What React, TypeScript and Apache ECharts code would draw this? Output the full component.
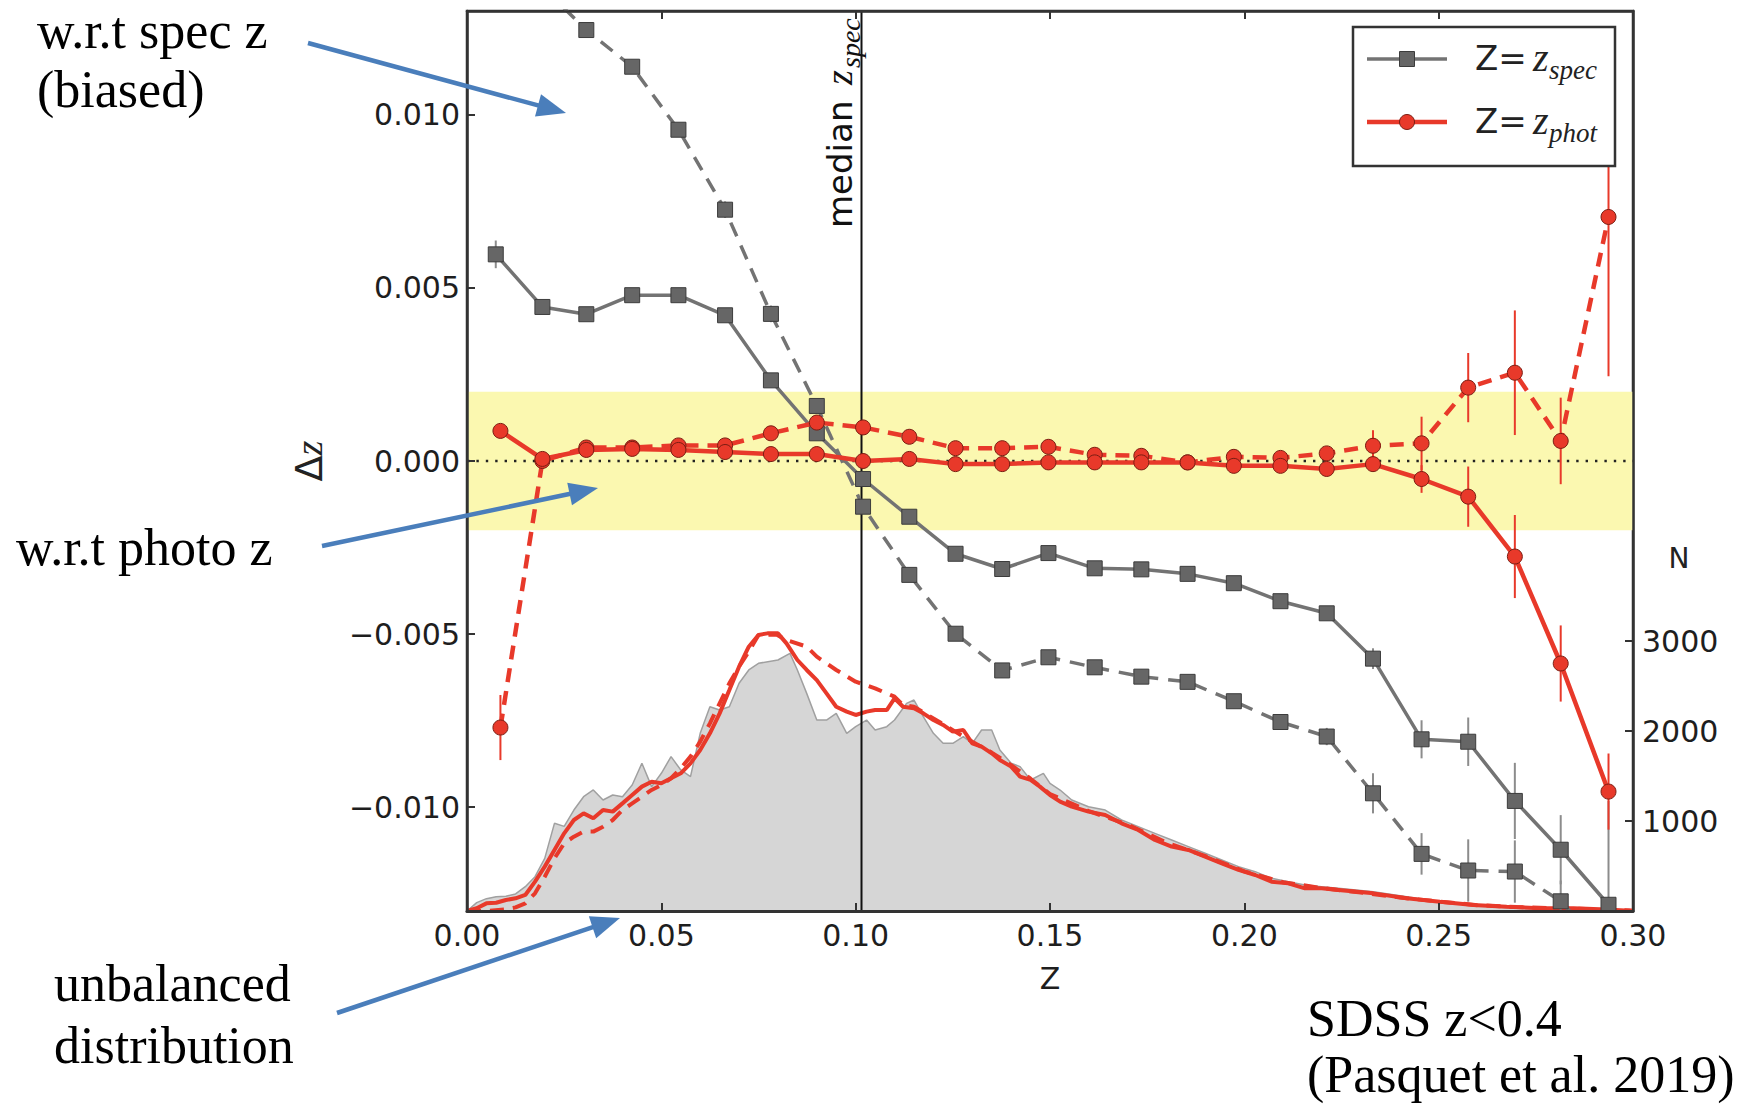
import React, { useEffect, useRef } from 'react';
import * as echarts from 'echarts';

// ---------- data ----------
const X_TICKS = [0, 0.05, 0.1, 0.15, 0.2, 0.25, 0.3];
const DZ_TICKS = [-0.01, -0.005, 0, 0.005, 0.01];
const N_TICKS = [1000, 2000, 3000];

const BIN_Z = [0.0074, 0.0194, 0.0307, 0.0425, 0.0544, 0.0664, 0.0782, 0.09, 0.1019, 0.1138, 0.1257, 0.1377, 0.1496, 0.1615, 0.1735, 0.1854, 0.1973, 0.2093, 0.2212, 0.2331, 0.2456, 0.2576, 0.2696, 0.2814, 0.2937];
const PHOT_BIN_Z = [0.0086, 0.0194, 0.0307, 0.0425, 0.0544, 0.0664, 0.0782, 0.09, 0.1019, 0.1138, 0.1257, 0.1377, 0.1496, 0.1615, 0.1735, 0.1854, 0.1973, 0.2093, 0.2212, 0.2331, 0.2456, 0.2576, 0.2696, 0.2814, 0.2937];

const SPEC_SOLID = [0.00597, 0.00445, 0.00424, 0.00479, 0.00479, 0.00421, 0.00233, 0.0008, -0.00052, -0.00161, -0.00268, -0.00312, -0.00266, -0.0031, -0.00313, -0.00326, -0.00353, -0.00405, -0.0044, -0.00571, -0.00804, -0.00811, -0.00982, -0.01123, -0.01282];
const SPEC_SOLID_ERR = [0.0004, 0.00015, 0.00015, 0.00015, 0.00015, 0.00015, 0.00015, 0.00015, 0.00015, 0.00015, 0.00015, 0.00015, 0.00015, 0.00015, 0.00015, 0.00015, 0.00015, 0.0002, 0.0002, 0.0003, 0.00055, 0.0007, 0.0011, 0.001, 0.003];
const SPEC_DASH = [0.0152, 0.0137, 0.01245, 0.01139, 0.00957, 0.00726, 0.00425, 0.00159, -0.00132, -0.00329, -0.00499, -0.00605, -0.00567, -0.00596, -0.00623, -0.00638, -0.00694, -0.00754, -0.00796, -0.0096, -0.01135, -0.01183, -0.01186, -0.01272, -0.0142];
const SPEC_DASH_ERR = [0.0002, 0.0002, 0.0002, 0.0002, 0.0002, 0.00024, 0.00024, 0.0002, 0.0002, 0.0002, 0.0002, 0.0002, 0.0002, 0.0002, 0.0002, 0.0002, 0.0002, 0.00022, 0.00025, 0.00058, 0.0006, 0.0009, 0.0009, 0.0006, 0.0006];
const PHOT_SOLID = [0.00087, 0.00006, 0.00032, 0.00035, 0.00032, 0.00026, 0.0002, 0.0002, 0.0, 0.00006, -0.00009, -0.00009, -0.00004, -0.00004, -0.00004, -0.00004, -0.00014, -0.00014, -0.00023, -0.00009, -0.00052, -0.00103, -0.00276, -0.00585, -0.00955];
const PHOT_SOLID_ERR = [0.00015, 0.00015, 0.00015, 0.00015, 0.00015, 0.00015, 0.00015, 0.00015, 0.00015, 0.00015, 0.00015, 0.00015, 0.00015, 0.00015, 0.00015, 0.00015, 0.00015, 0.00015, 0.00015, 0.0002, 0.0004, 0.00087, 0.0012, 0.0011, 0.0011];
const PHOT_DASH = [-0.0077, 0.0, 0.00039, 0.00039, 0.00045, 0.00045, 0.0008, 0.00111, 0.00097, 0.0007, 0.00037, 0.00037, 0.00041, 0.00018, 0.00015, -0.00004, 0.00012, 0.00009, 0.00022, 0.00044, 0.00051, 0.00212, 0.00255, 0.00058, 0.00705];
const PHOT_DASH_ERR = [0.00094, 0.00015, 0.00015, 0.00015, 0.00015, 0.00015, 0.00015, 0.00015, 0.00015, 0.00015, 0.00015, 0.00015, 0.00015, 0.00015, 0.00015, 0.00015, 0.00015, 0.00018, 0.0002, 0.00045, 0.00077, 0.001, 0.0018, 0.00125, 0.0046];

// histogram of spectroscopic redshifts (grey, right axis N)
const HIST_Z = [0, 0.0025, 0.005, 0.0075, 0.01, 0.0125, 0.015, 0.0175, 0.02, 0.0225, 0.025, 0.0275, 0.03, 0.0325, 0.035, 0.0375, 0.04, 0.0425, 0.045, 0.0475, 0.05, 0.0525, 0.055, 0.0575, 0.06, 0.0625, 0.065, 0.0675, 0.07, 0.0725, 0.075,
  0.08, 0.0831, 0.085, 0.0874, 0.09, 0.0925, 0.095, 0.0977, 0.1, 0.1028, 0.105, 0.108, 0.11, 0.1131, 0.115, 0.1174, 0.12, 0.1225, 0.125, 0.1277, 0.13, 0.1324, 0.135, 0.1371, 0.14, 0.1423, 0.145, 0.1483, 0.15, 0.1526,
  0.1556, 0.1599, 0.1642, 0.1684, 0.1727, 0.177, 0.1813, 0.1856, 0.1899, 0.1942, 0.1985, 0.2028, 0.207, 0.2113, 0.2156, 0.2199, 0.2242,
  0.2332, 0.2418, 0.25, 0.26, 0.27, 0.28, 0.29, 0.3];
const HIST_N = [0, 93, 137, 159, 165, 190, 270, 381, 585, 974, 940, 1122, 1270, 1345, 1233, 1289, 1270, 1400, 1641, 1382, 1530, 1715, 1567, 1493, 1974, 2270, 2233, 2270, 2530, 2678, 2752,
  2789, 2863, 2678, 2418, 2122, 2122, 2196, 1974, 2048, 2122, 2011, 2048, 2122, 2307, 2344, 2159, 1974, 1863, 1863, 1937, 1863, 2011, 2011, 1789, 1641, 1604, 1456, 1530, 1419, 1344,
  1233, 1159, 1122, 1011, 937, 863, 789, 715, 641, 567, 493, 437, 363, 326, 289, 270, 252,
  215, 159, 104, 60, 30, 20, 11, 5];

// distribution of photometric redshifts (red solid)
const PHOT_DIST_Z = [0, 0.0025, 0.005, 0.0075, 0.01, 0.0125, 0.015, 0.0175, 0.02, 0.0225, 0.025, 0.0275, 0.03, 0.0325, 0.035, 0.0375, 0.04, 0.0425, 0.045, 0.0475, 0.05, 0.0525, 0.055, 0.0575, 0.06, 0.0625, 0.065, 0.0675, 0.07, 0.0725, 0.075,
  0.0773, 0.08, 0.0822, 0.085, 0.0874, 0.09, 0.0925, 0.095, 0.0977, 0.1, 0.1028, 0.105, 0.108, 0.11, 0.1122, 0.115, 0.1174, 0.12, 0.1225, 0.125, 0.1277, 0.13, 0.1324, 0.135, 0.1371, 0.14, 0.1423, 0.145, 0.1474, 0.15, 0.1526,
  0.1556, 0.1599, 0.1642, 0.1684, 0.1727, 0.177, 0.1813, 0.1856, 0.1899, 0.1942, 0.1985, 0.2028, 0.207, 0.2113, 0.2156, 0.2199, 0.2242,
  0.2332, 0.2418, 0.2503, 0.2589, 0.2675, 0.2761, 0.2847, 0.2932, 0.2992];
const PHOT_DIST_N = [0, 30, 85, 92, 122, 141, 178, 326, 493, 678, 863, 1011, 1085, 1030, 1122, 1104, 1196, 1289, 1382, 1437, 1419, 1475, 1530, 1641, 1789, 1974, 2196, 2455, 2715, 2937, 3067,
  3085, 3085, 2974, 2789, 2678, 2566, 2418, 2270, 2215, 2178, 2215, 2233, 2233, 2363, 2270, 2252, 2196, 2122, 2067, 1993, 2011, 1863, 1826, 1752, 1678, 1604, 1493, 1456, 1382, 1289, 1215,
  1159, 1104, 1067, 974, 900, 789, 715, 678, 604, 530, 456, 400, 326, 307, 252, 252, 233,
  196, 141, 104, 67, 48, 30, 30, 18, 4];

// second photometric distribution (red dashed)
const PHOT_DIST2_Z = [0, 0.005, 0.01, 0.0125, 0.015, 0.0175, 0.02, 0.0225, 0.025, 0.0275, 0.03, 0.0325, 0.035, 0.0375, 0.04, 0.0425, 0.045, 0.0475, 0.05, 0.0525, 0.055, 0.0575, 0.06, 0.0625, 0.065, 0.0675, 0.07, 0.0725, 0.075,
  0.0796, 0.0822, 0.0874, 0.09, 0.095, 0.1, 0.105, 0.11, 0.1122, 0.115,
  0.12, 0.125, 0.13, 0.135, 0.14, 0.145, 0.15,
  0.16, 0.17, 0.18, 0.19, 0.2, 0.21, 0.22, 0.23, 0.24, 0.25, 0.26, 0.27, 0.28, 0.29, 0.3];
const PHOT_DIST2_N = [0, 0, 18, 40, 85, 196, 381, 585, 752, 826, 882, 882, 937, 1011, 1122, 1196, 1270, 1345, 1400, 1475, 1586, 1715, 1882, 2085, 2307, 2530, 2715, 2882, 3067,
  3071, 3011, 2937, 2826, 2678, 2548, 2474, 2381, 2289, 2270,
  2140, 2010, 1880, 1760, 1620, 1470, 1300,
  1110, 960, 760, 610, 440, 320, 255, 205, 150, 105, 65, 45, 30, 20, 5];

const MEDIAN_Z = 0.1015;
const DZ_RANGE = [-0.013, 0.013];
const BAND_DZ = [-0.002, 0.002];
const BAND_Z = [0, 0.3];

// ---------- styling ----------
const SANS = 'DejaVu Sans';
const SERIF = 'Liberation Serif';
const GREY_LINE = '#737373';
const GREY_MARK = '#666666';
const GREY_ERR = '#8c8c8c';
const RED = '#e8392a';
const RED_EDGE = '#7a1d12';
const ARROW = '#4a7ebb';

function zip(xs: number[], ys: number[]) {
  return xs.map((x, i) => [x, ys[i]]);
}

function errSeries(xs: number[], ys: number[], es: number[], color: string, z: number) {
  return {
    type: 'custom',
    xAxisIndex: 0,
    yAxisIndex: 0,
    z,
    clip: true,
    silent: true,
    data: xs.map((x, i) => [x, ys[i], es[i]]),
    encode: { x: 0, y: 1 },
    renderItem: (_p: any, api: any) => {
      const x = api.value(0);
      const y = api.value(1);
      const e = api.value(2);
      const a = api.coord([x, y - e]);
      const b = api.coord([x, y + e]);
      return {
        type: 'line',
        shape: { x1: a[0], y1: a[1], x2: b[0], y2: b[1] },
        style: { stroke: color, lineWidth: 2 },
      };
    },
  };
}

function arrow(x1: number, y1: number, x2: number, y2: number) {
  const dx = x2 - x1;
  const dy = y2 - y1;
  const L = Math.hypot(dx, dy);
  const ux = dx / L;
  const uy = dy / L;
  const head = 29;
  const hw = 11.5;
  const bx = x2 - ux * head;
  const by = y2 - uy * head;
  return [
    { type: 'line', shape: { x1, y1, x2: bx + ux * 2, y2: by + uy * 2 }, style: { stroke: ARROW, lineWidth: 4.5 }, z: 100 },
    {
      type: 'polygon',
      shape: { points: [[x2, y2], [bx - uy * hw, by + ux * hw], [bx + uy * hw, by - ux * hw]] },
      style: { fill: ARROW },
      z: 100,
    },
  ];
}

function txt(text: string, x: number, y: number, font: string, extra: any = {}) {
  return {
    type: 'text',
    x,
    y,
    z: 100,
    style: {
      text,
      font,
      fill: '#111',
      align: 'left',
      verticalAlign: 'middle',
      textAlign: 'left',
      textVerticalAlign: 'middle',
      ...extra,
    },
  };
}

export default function App() {
  const ref = useRef<HTMLDivElement>(null);

  useEffect(() => {
    if (!ref.current) return;
    const chart = echarts.init(ref.current, undefined, { renderer: 'svg' });

    const axisLineStyle = { color: '#333', width: 2.5 };
    const tickStyle = { color: '#333', width: 2 };
    const labelStyle = { fontSize: 30, fontFamily: SANS, color: '#1e1e1e' };

    const option: any = {
      animation: false,
      backgroundColor: '#ffffff',
      grid: {
        left: 467, top: 11, width: 1166, height: 900,
        show: true, borderColor: '#333', borderWidth: 2.5, backgroundColor: 'transparent',
        containLabel: false, outerBoundsMode: 'none',
      },
      xAxis: [
        {
          type: 'value', min: X_TICKS[0], max: X_TICKS[X_TICKS.length - 1], interval: 0.05, position: 'bottom', z: 10,
          axisLine: { show: true, onZero: false, lineStyle: { color: '#333', width: 3 } },
          axisTick: { show: true, inside: true, length: 8, lineStyle: tickStyle },
          axisLabel: { ...labelStyle, margin: 9, formatter: (v: number) => v.toFixed(2) },
          splitLine: { show: false },
          name: 'Z', nameLocation: 'middle', nameGap: 52,
          nameTextStyle: { fontSize: 30, fontFamily: SANS, color: '#1e1e1e' },
        },
        {
          type: 'value', min: X_TICKS[0], max: X_TICKS[X_TICKS.length - 1], interval: 0.05, position: 'top', z: 10,
          axisLine: { show: true, onZero: false, lineStyle: axisLineStyle },
          axisTick: { show: true, inside: true, length: 8, lineStyle: tickStyle },
          axisLabel: { show: false },
          splitLine: { show: false },
        },
      ],
      yAxis: [
        {
          type: 'value', min: DZ_RANGE[0], max: DZ_RANGE[1], position: 'left', z: 10,
          axisLine: { show: true, onZero: false, lineStyle: axisLineStyle },
          axisTick: { show: true, inside: true, length: 8, lineStyle: tickStyle, customValues: DZ_TICKS },
          axisLabel: {
            ...labelStyle, margin: 7, customValues: DZ_TICKS,
            formatter: (v: number) => (v < -1e-9 ? '\u2212' : '') + Math.abs(v).toFixed(3),
          },
          splitLine: { show: false },
        },
        {
          type: 'value', min: 0, max: 10000, position: 'right', z: 10,
          axisLine: { show: true, onZero: false, lineStyle: axisLineStyle },
          axisTick: { show: true, inside: true, length: 8, lineStyle: tickStyle, customValues: N_TICKS },
          axisLabel: { ...labelStyle, margin: 9, customValues: N_TICKS, formatter: (v: number) => String(Math.round(v)) },
          splitLine: { show: false },
        },
      ],
      series: [
        // yellow +-0.002 band
        {
          type: 'custom', xAxisIndex: 0, yAxisIndex: 0, z: 0, silent: true, clip: true,
          data: [[BAND_Z[0], BAND_Z[1], BAND_DZ[0], BAND_DZ[1]]],
          encode: { x: [0, 1], y: [2, 3] },
          renderItem: (_p: any, api: any) => {
            const a = api.coord([api.value(0), api.value(3)]);
            const b = api.coord([api.value(1), api.value(2)]);
            return {
              type: 'rect',
              shape: { x: a[0], y: a[1], width: b[0] - a[0], height: b[1] - a[1] },
              style: { fill: '#fbf8b0' },
            };
          },
        },
        // histogram of z_spec
        {
          name: 'N(z_spec)', type: 'line', xAxisIndex: 0, yAxisIndex: 1, z: 1,
          data: zip(HIST_Z, HIST_N), symbol: 'none',
          lineStyle: { color: '#a0a0a0', width: 1.5 },
          areaStyle: { color: '#d6d6d6', opacity: 1 },
        },
        {
          name: 'N(z_phot)', type: 'line', xAxisIndex: 0, yAxisIndex: 1, z: 2,
          data: zip(PHOT_DIST_Z, PHOT_DIST_N), symbol: 'none',
          lineStyle: { color: RED, width: 4 },
        },
        {
          name: 'N(z_phot) 2', type: 'line', xAxisIndex: 0, yAxisIndex: 1, z: 2,
          data: zip(PHOT_DIST2_Z, PHOT_DIST2_N), symbol: 'none',
          lineStyle: { color: RED, width: 4, type: [14, 9] },
        },
        // median z_spec vertical line
        {
          type: 'custom', xAxisIndex: 0, yAxisIndex: 0, z: 3, silent: true, clip: true,
          data: [[MEDIAN_Z, DZ_RANGE[0], DZ_RANGE[1]]],
          encode: { x: 0, y: [1, 2] },
          renderItem: (_p: any, api: any) => {
            const a = api.coord([api.value(0), api.value(1)]);
            const b = api.coord([api.value(0), api.value(2)]);
            return {
              type: 'line',
              shape: { x1: a[0], y1: a[1], x2: b[0], y2: b[1] },
              style: { stroke: '#111', lineWidth: 2 },
            };
          },
        },
        // error bars
        errSeries(BIN_Z, SPEC_SOLID, SPEC_SOLID_ERR, GREY_ERR, 4),
        errSeries(BIN_Z, SPEC_DASH, SPEC_DASH_ERR, GREY_ERR, 4),
        errSeries(PHOT_BIN_Z, PHOT_SOLID, PHOT_SOLID_ERR, RED, 6),
        errSeries(PHOT_BIN_Z, PHOT_DASH, PHOT_DASH_ERR, RED, 6),
        // Z = z_spec
        {
          name: 'Z=z_spec', type: 'line', xAxisIndex: 0, yAxisIndex: 0, z: 5, clip: true,
          data: zip(BIN_Z, SPEC_SOLID), symbol: 'rect', symbolSize: 15,
          lineStyle: { color: GREY_LINE, width: 3.5 },
          itemStyle: { color: GREY_MARK, borderColor: '#3c3c3c', borderWidth: 1 },
          markLine: {
            silent: true, symbol: ['none', 'none'], label: { show: false },
            data: [
              { yAxis: 0, lineStyle: { color: '#222', width: 2.4, type: [2.4, 7] } },
            ],
          },
        },
        {
          name: 'Z=z_spec (dashed)', type: 'line', xAxisIndex: 0, yAxisIndex: 0, z: 5, clip: true,
          data: zip(BIN_Z, SPEC_DASH), symbol: 'rect', symbolSize: 15,
          lineStyle: { color: GREY_LINE, width: 3.5, type: [15, 10] },
          itemStyle: { color: GREY_MARK, borderColor: '#3c3c3c', borderWidth: 1 },
        },
        // Z = z_phot
        {
          name: 'Z=z_phot (dashed)', type: 'line', xAxisIndex: 0, yAxisIndex: 0, z: 7, clip: true,
          data: zip(PHOT_BIN_Z, PHOT_DASH), symbol: 'circle', symbolSize: 15,
          lineStyle: { color: RED, width: 4.5, type: [14, 9] },
          itemStyle: { color: RED, borderColor: RED_EDGE, borderWidth: 1 },
        },
        {
          name: 'Z=z_phot', type: 'line', xAxisIndex: 0, yAxisIndex: 0, z: 8, clip: true,
          data: zip(PHOT_BIN_Z, PHOT_SOLID), symbol: 'circle', symbolSize: 15,
          lineStyle: { color: RED, width: 4.5 },
          itemStyle: { color: RED, borderColor: RED_EDGE, borderWidth: 1 },
        },
      ],
      graphic: [
        // legend
        { type: 'rect', shape: { x: 1353, y: 27, width: 262, height: 139 }, style: { fill: '#fff', stroke: '#333', lineWidth: 2.5 }, z: 90 },
        { type: 'line', shape: { x1: 1367, y1: 59, x2: 1447, y2: 59 }, style: { stroke: GREY_LINE, lineWidth: 3.5 }, z: 91 },
        { type: 'rect', shape: { x: 1399.5, y: 51.5, width: 15, height: 15 }, style: { fill: GREY_MARK, stroke: '#3c3c3c', lineWidth: 1 }, z: 92 },
        { type: 'line', shape: { x1: 1367, y1: 122, x2: 1447, y2: 122 }, style: { stroke: RED, lineWidth: 4.5 }, z: 91 },
        { type: 'circle', shape: { cx: 1407, cy: 122, r: 7.5 }, style: { fill: RED, stroke: RED_EDGE, lineWidth: 1 }, z: 92 },
        txt('Z=', 1475, 58, `34px "${SANS}"`, { fill: '#222' }),
        txt('z', 1533, 57, `italic 40px "${SERIF}"`, { fill: '#222' }),
        txt('spec', 1549, 70, `italic 27px "${SERIF}"`, { fill: '#222' }),
        txt('Z=', 1475, 121, `34px "${SANS}"`, { fill: '#222' }),
        txt('z', 1533, 120, `italic 40px "${SERIF}"`, { fill: '#222' }),
        txt('phot', 1549, 133, `italic 27px "${SERIF}"`, { fill: '#222' }),
        // N label of right axis
        txt('N', 1679, 558, `28px "${SANS}"`, { align: 'center', textAlign: 'center', fill: '#222' }),
        // Delta z axis title (rotated)
        {
          type: 'group', x: 309, y: 461, rotation: Math.PI / 2, z: 100,
          children: [
            {
              type: 'text', x: 0, y: 0,
              style: {
                text: '{d|\u0394}{z|z}', align: 'center', verticalAlign: 'middle', textAlign: 'center', textVerticalAlign: 'middle',
                rich: {
                  d: { font: `38px "${SANS}"`, fill: '#222' },
                  z: { font: `italic 38px "${SERIF}"`, fill: '#222' },
                },
              },
            },
          ],
        },
        // median z_spec label (rotated)
        {
          type: 'group', x: 840, y: 228, rotation: Math.PI / 2, z: 100,
          children: [
            txt('median', 0, 0, `34px "${SANS}"`, { fill: '#111' }),
            txt('z', 143, -1, `italic 38px "${SERIF}"`, { fill: '#111' }),
            txt('spec', 160, 10, `italic 28px "${SERIF}"`, { fill: '#111' }),
          ],
        },
        // annotations
        txt('w.r.t spec z', 37, 30, `52px "${SERIF}"`, { fill: '#000' }),
        txt('(biased)', 37, 89, `52px "${SERIF}"`, { fill: '#000' }),
        txt('w.r.t photo z', 16, 547, `52px "${SERIF}"`, { fill: '#000' }),
        txt('unbalanced', 54, 983, `52px "${SERIF}"`, { fill: '#000' }),
        txt('distribution', 54, 1045, `52px "${SERIF}"`, { fill: '#000' }),
        txt('SDSS z<0.4', 1307, 1018, `52px "${SERIF}"`, { fill: '#000' }),
        txt('(Pasquet et al. 2019)', 1307, 1074, `52px "${SERIF}"`, { fill: '#000' }),
        ...arrow(308, 43, 566, 113),
        ...arrow(322, 546, 598, 488),
        ...arrow(337, 1013, 620, 918),
      ],
    };

    chart.setOption(option);
    return () => {
      chart.dispose();
    };
  }, []);

  return (
    <div
      ref={ref}
      style={{ position: 'fixed', left: 0, top: 0, width: 1752, height: 1104, background: '#fff' }}
    />
  );
}
